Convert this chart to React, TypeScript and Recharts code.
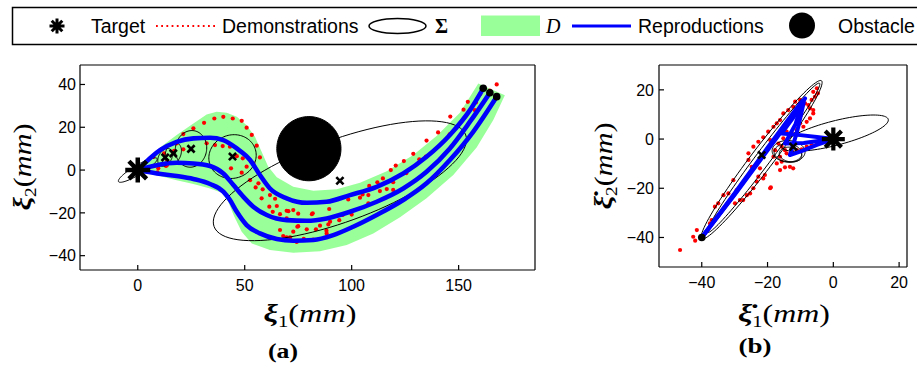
import React from "react";
import { ComposedChart, Scatter, XAxis, YAxis } from "recharts";

type Pt = [number, number];

// ---------- (a) position space ----------
const POS_X_TICKS = [0, 50, 100, 150];
const POS_Y_TICKS = [-40, -20, 0, 20, 40];

// envelope D (upper edge out, lower edge back)
const POS_BAND: Pt[] = [
  [-1, 0.5], [5, 4.7], [10.4, 10.6], [18.2, 16.4], [26, 21.8], [32.2, 26], [36.9, 27.2],
  [41.6, 26.8], [46.3, 24.9], [50.9, 21], [54.8, 15.6], [57.9, 8.6], [61, 1.6], [65, -3.4],
  [72.7, -7.8], [82.1, -9.7], [93, -9], [103.9, -5.9], [116.4, -0.5], [128.8, 7],
  [139.7, 15.9], [150.6, 26.8], [159.2, 40.5], [171.6, 35], [166.2, 23.4], [158.4, 10.6],
  [147.5, -2.3], [135, -13.2], [122.6, -22.1], [110.1, -29.6], [97.7, -35], [85.2, -37.9],
  [72.7, -38.6], [61.8, -37.4], [53.3, -34.3], [48.6, -28.8], [45, -21.5], [42.3, -14.8],
  [39.3, -10.6], [33.8, -8.6], [26, -6.5], [18.2, -4.7], [10.4, -2.8], [4.2, -1.3], [-1, -0.5],
];

const POS_DEMOS: Pt[] = [
  [35.8, 24.1], [40, 24.9], [44.4, 24.1], [48.6, 23], [31, 22.1], [50.9, 19.8], [53.3, 16.4],
  [55.6, 11.4], [57.1, 5.9], [54, 3.1], [50.9, 1.6], [48.6, -1.2], [52.5, -4.7], [55.1, -8.1],
  [56.4, -6.2], [58.4, -9], [57.9, -13.2], [61.8, -11.7], [64.2, -13.4], [61.5, -17.1],
  [65, -16.8], [63.1, -19.5], [66.5, -20.6], [69.6, -22.6], [70.4, -19.2], [72.7, -18.7],
  [66.5, -28], [68, -30.8], [71.2, -31.5], [11.2, 9.7], [12.3, 7.8], [13.8, 4.4], [17, 9],
  [18.2, 12.5], [26, 19.5], [21.3, 9.7], [32.2, 12.5], [36.1, 11.7], [39.7, 11.2],
  [43.1, 10.9], [46.3, 6.5], [49.1, 5.5], [43.6, 0.8], [9.6, 0.8], [13.6, 2.3], [7.3, 6.2],
  [21.3, 16.8], [9.2, -1.1], [13.2, 1.9], [72.7, -28.8], [74.6, -26.5], [75, -20.4],
  [74.3, -33.6], [77.6, -32.2], [81.4, -20.6], [82, -32.5], [85.2, -26], [88.2, -28.3],
  [89.9, -24.1], [95.8, -21], [100, -20.8], [107.8, -11.7], [108.2, -7.4], [113.2, -9.8],
  [114.6, -3.9], [118.3, 0], [120.6, 2.1], [119.4, -9.3], [125.6, -1.4], [128.8, 7.6],
  [131.6, 5], [134.7, 6.3], [135, 13.8], [140.4, 17.6], [146.1, 25], [145.8, 16.7],
  [152.3, 28.2], [154.3, 31.9], [157.6, 28], [167.8, 40], [164.6, 37.1], [69.6, -19],
  [81.8, -20.2], [89.5, -18.2], [98.4, -13.7], [105.1, -11.4], [112, -5.7], [116.4, -8.9],
  [119.4, -5.7], [124.4, 4.2], [158.1, 31.6], [160, 35.4], [89.1, -25.4], [83.3, -27.7],
  [79, -27.7], [75, -26.2], [69.6, -31.4], [107.8, -15.6], [103.9, -12.9], [94.2, -23.4],
  [88.3, -29.6],
];

const POS_REPRO_1: Pt[] = [
  [0, 0], [10.4, 9.3], [18.2, 13.2], [26, 14.8], [33.8, 15.1], [40, 14], [46.3, 10.1],
  [52.5, 4.7], [57.1, -2.3], [61.8, -8.6], [69.6, -13.2], [79, -15.3], [88.3, -14.8],
  [99.2, -11.7], [111.7, -7.8], [124.1, -1.6], [135, 6.2], [145.9, 16.4], [155.3, 28], [161.5, 38.2],
];
const POS_REPRO_2: Pt[] = [
  [0, 0], [8.9, 2.3], [18.2, 3.4], [26, 3.1], [33.8, 1.9], [40, -1.6], [44.7, -7], [49.4, -12.5],
  [54, -17.1], [60.3, -21], [69.6, -23.4], [79, -23.7], [88.3, -22.6], [99.2, -19.5],
  [111.7, -14.8], [124.1, -8.6], [135, -0.8], [145.9, 10.1], [155.3, 22.6], [164.6, 36.1],
];
const POS_REPRO_3: Pt[] = [
  [0, 0], [8.9, -1.6], [18.2, -2.8], [26, -4.2], [33.8, -6.5], [40, -10.1], [43.1, -14],
  [46.3, -19.5], [50.9, -25.7], [57.1, -29.6], [65, -32.2], [72.7, -33], [82.1, -32.7],
  [91.4, -30.4], [100.7, -26.5], [111.7, -21], [124.1, -14], [135, -6.2], [145.9, 4.7],
  [156.8, 17.9], [167.8, 34.3],
];

// Gaussians: centre + two conjugate half-axes [cx, cy, ux, uy, vx, vy]
const POS_SIGMAS: number[][] = [
  [0, 0, 9.0, 5.4, -1.13, 1.89],
  [12.8, 5.9, 2.25, 3.9, -2.6, 1.5],
  [16.6, 7.8, 1.78, 4.89, -3.38, 1.23],
  [24.9, 9.9, 1.49, 8.47, -7.19, 1.27],
  [44.3, 6.3, 10.52, 3.83, -3.45, 9.49],
  [94.5, -5, 58.82, 21.41, -6.57, 18.04],
];
const POS_CENTERS: Pt[] = [[12.8, 5.9], [16.6, 7.8], [24.9, 9.9], [44.3, 6.3], [94.5, -5]];
const POS_STARTS: Pt[] = [[161.5, 38.2], [164.6, 36.1], [167.8, 34.3]];
const OBSTACLE = { cx: 80, cy: 10, r: 15 };

// ---------- (b) velocity space ----------
const VEL_X_TICKS = [-40, -20, 0, 20];
const VEL_Y_TICKS = [-40, -20, 0, 20];

const VEL_DEMOS: Pt[] = [
  [-46.6, -45.1], [-42.6, -39.7], [-42, -41.3], [-41.5, -37], [-37.5, -34.3], [-37, -32.9],
  [-35.4, -31.6], [-36, -27.5], [-35, -26.1], [-33.4, -22.8], [-31.9, -22.1], [-30.4, -16.7],
  [-29.4, -20.7], [-28.4, -24.8], [-29.9, -26.1], [-27.4, -24.8], [-26.3, -22.8], [-25.3, -22.1],
  [-24.3, -20], [-23.3, -17.3], [-22.8, -15.3], [-21.3, -16], [-20.8, -14.6], [-19, -19.6],
  [-22.3, -11.9], [-24.8, -11.3], [-25.8, -8.5], [-25.8, -5.8], [-24.3, -3.1], [-22.8, -1.1],
  [-21.3, 0.7], [-19.8, 3], [-19.2, -0.4], [-18.2, 5], [-17.2, 6.4], [-16.2, 7.7], [-15.2, 10.4],
  [-13.7, 11.8], [-12.2, 13.1], [-11.6, 15.2], [-10.1, 15.9], [-8.6, 14.5], [-7.6, 13.8],
  [-7.1, 12.5], [-6.1, 11.8], [-6.1, 10.4], [-7.1, 8.4], [-8.1, 7], [-9.1, 5], [-10.1, 6.4],
  [-11.1, 3.7], [-12.6, 2.3], [-14.2, 3], [-15.2, 0.3], [-15.7, -3.1], [-14.7, -4.5],
  [-14.2, -5.8], [-12.6, -5.2], [-11.1, -4.5], [-9.6, -4.2], [-8.1, -3.1], [-6.6, -2.4],
  [-5, -1.8], [-16.2, -7.2], [-15.7, -9.2], [-14.7, -11.5], [-13.2, -11.3], [-12.2, -11.9],
  [-16.2, -12.6], [-17.2, -9.9], [-18.2, -7.2], [-16.7, -1.8], [-17.7, -4.5], [-6.1, 19.2],
  [-5, 20.6], [-4.7, 18.6], [-5.6, 17.2], [-6.6, 15.9], [-10.1, 9.1], [-19.2, -20],
];

const VEL_REPRO_1: Pt[] = [
  [-40, -40], [-30, -22.3], [-20, -4.2], [-12, 10.5], [-8.6, 16.5], [-11.5, 10], [-15.7, 2.3],
  [-10, 1.6], [-5, 0.8], [0, 0],
];
const VEL_REPRO_2: Pt[] = [
  [-40, -40], [-30, -22], [-20, -3.5], [-12, 11], [-9.4, 15.5], [-11.5, 6], [-14.7, -1.8],
  [-9, -1.6], [-4, -0.7], [0, 0],
];
const VEL_REPRO_3: Pt[] = [
  [-40, -40], [-30, -22.6], [-20, -4.6], [-12.5, 9], [-9, 14.8], [-11, 3], [-13.2, -6.5],
  [-9.5, -4.8], [-5, -2.4], [0, 0],
];

const VEL_SIGMAS: number[][] = [
  [-21.8, -8.4, 18.2, 32.1, 2.67, -2.68],
  [-21.2, -7.6, 17.0, 30.3, 1.8, -1.8],
  [0.5, 2.4, 16.2, 5.6, 0.9, -4.8],
  [-13.8, -5.6, 4.2, -0.6, 0.3, 3.6],
  [-13.0, -6.3, 3.4, -0.8, 0.4, 2.9],
  [-13.6, -5.0, 5.0, -0.4, 0.2, 4.4],
];
const VEL_CENTERS: Pt[] = [[-21.8, -6.5], [-12.2, -3.1]];
const VEL_STARTS: Pt[] = [[-40, -40]];

// ---------- helpers ----------
const RED = "#ff0000";
const BLUE = "#0000ff";
const GREEN = "#99ff99";
const SANS = "'Liberation Sans', Arial, sans-serif";
const SERIF = "'Liberation Serif', 'Times New Roman', serif";

const toXY = (pts: Pt[]) => pts.map(([x, y]) => ({ x, y }));

const outline = ([cx, cy, ux, uy, vx, vy]: number[]) => {
  const out = [];
  for (let i = 0; i <= 96; i++) {
    const t = (i / 96) * Math.PI * 2;
    out.push({ x: cx + ux * Math.cos(t) + vx * Math.sin(t), y: cy + uy * Math.cos(t) + vy * Math.sin(t) });
  }
  return out;
};

const NoDot = () => <g />;
const RedDot = (p: any) => <circle cx={p.cx} cy={p.cy} r={2.1} fill={RED} />;
const BlackDot = (p: any) => <circle cx={p.cx} cy={p.cy} r={3.8} fill="#000" />;
const XMark = (p: any) => {
  const s = 3.6;
  return (
    <path
      d={`M${p.cx - s},${p.cy - s}L${p.cx + s},${p.cy + s}M${p.cx - s},${p.cy + s}L${p.cx + s},${p.cy - s}`}
      stroke="#000"
      strokeWidth={2.6}
    />
  );
};
const starPath = (cx: number, cy: number, r: number) => {
  const d = r * 0.7071;
  return `M${cx - r},${cy}H${cx + r}M${cx},${cy - r}V${cy + r}M${cx - d},${cy - d}L${cx + d},${cy + d}M${cx - d},${cy + d}L${cx + d},${cy - d}`;
};
const makeStar = (r: number, w: number) => (p: any) => (
  <path d={starPath(p.cx, p.cy, r)} stroke="#000" strokeWidth={w} />
);
const BigStar = makeStar(12.5, 4.5);
const MidStar = makeStar(11.5, 4.2);

const fmt = (v: number) => String(v).replace("-", "\u2212");
const TICK = { fill: "#000", fontSize: 16, fontFamily: SANS };

function Axes({ xd, yd, xt, yt, xm, ym }: any) {
  return [
    <XAxis key="b" xAxisId="b" type="number" dataKey="x" domain={xd} ticks={xt} allowDataOverflow interval={0}
      height={30} tickSize={-5} tickMargin={15} tick={TICK} tickFormatter={fmt} stroke="#000" strokeWidth={1.2} />,
    <XAxis key="t" xAxisId="t" orientation="top" type="number" dataKey="x" domain={xd} ticks={xt} allowDataOverflow
      interval={0} height={5} tickSize={-5} tick={false} stroke="#000" strokeWidth={1.2} />,
    <YAxis key="l" yAxisId="l" type="number" dataKey="y" domain={yd} ticks={yt} allowDataOverflow interval={0}
      width={ym} tickSize={-5} tickMargin={xm} tick={TICK} tickFormatter={fmt} stroke="#000" strokeWidth={1.2} />,
    <YAxis key="r" yAxisId="r" orientation="right" type="number" dataKey="y" domain={yd} ticks={yt} allowDataOverflow
      interval={0} width={5} tickSize={-5} tick={false} stroke="#000" strokeWidth={1.2} />,
  ];
}

const S = { xAxisId: "b", yAxisId: "l", isAnimationActive: false } as const;

export default function App() {
  const curve = (pts: Pt[], key: string, w: number, joint: any) => (
    <Scatter key={key} {...S} data={toXY(pts)} shape={NoDot} fill={BLUE}
      line={{ stroke: BLUE, strokeWidth: w, fill: "none", strokeLinejoin: "round" }} lineJointType={joint} />
  );
  const sigma = (e: number[], key: string) => (
    <Scatter key={key} {...S} data={outline(e)} shape={NoDot} fill="#000"
      line={{ stroke: "#000", strokeWidth: 1, fill: "none" }} />
  );
  const obstaclePts = outline([OBSTACLE.cx, OBSTACLE.cy, OBSTACLE.r, 0, 0, OBSTACLE.r]);

  return (
    <div style={{ position: "absolute", left: 0, top: 0, width: 917, height: 370, background: "#fff", fontFamily: SANS }}>
      <ComposedChart width={560} height={300} margin={{ top: 60, right: 20, bottom: 0, left: 20 }}
        style={{ position: "absolute", left: 0, top: 0 }}>
        {Axes({ xd: [-27, 185.7], yd: [-46.7, 49.1], xt: POS_X_TICKS, yt: POS_Y_TICKS, xm: 9, ym: 60 })}
        <Scatter {...S} data={toXY(POS_BAND)} shape={NoDot} fill={GREEN}
          line={{ stroke: "none", fill: GREEN }} lineJointType="linearClosed" />
        <Scatter {...S} data={toXY(POS_DEMOS)} shape={RedDot} fill={RED} />
        {POS_SIGMAS.map((e, i) => sigma(e, "ps" + i))}
        {curve(POS_REPRO_1, "pr1", 4.6, "monotoneX")}
        {curve(POS_REPRO_2, "pr2", 4.6, "monotoneX")}
        {curve(POS_REPRO_3, "pr3", 4.6, "monotoneX")}
        <Scatter {...S} data={obstaclePts} shape={NoDot} fill="#000"
          line={{ stroke: "#000", strokeWidth: 1, fill: "#000" }} />
        <Scatter {...S} data={toXY(POS_CENTERS)} shape={XMark} fill="#000" />
        <Scatter {...S} data={toXY(POS_STARTS)} shape={BlackDot} fill="#000" />
        <Scatter {...S} data={[{ x: 0, y: 0 }]} shape={BigStar} fill="#000" />
      </ComposedChart>

      <ComposedChart width={317} height={300} margin={{ top: 60, right: 5, bottom: 3, left: 0 }}
        style={{ position: "absolute", left: 600, top: 0 }}>
        {Axes({ xd: [-53, 22.4], yd: [-52, 30.1], xt: VEL_X_TICKS, yt: VEL_Y_TICKS, xm: 10, ym: 59 })}
        <Scatter {...S} data={toXY(VEL_DEMOS)} shape={RedDot} fill={RED} />
        {VEL_SIGMAS.map((e, i) => sigma(e, "vs" + i))}
        {curve(VEL_REPRO_1, "vr1", 4, "linear")}
        {curve(VEL_REPRO_2, "vr2", 4, "linear")}
        {curve(VEL_REPRO_3, "vr3", 4, "linear")}
        <Scatter {...S} data={toXY(VEL_CENTERS)} shape={XMark} fill="#000" />
        <Scatter {...S} data={toXY(VEL_STARTS)} shape={BlackDot} fill="#000" />
        <Scatter {...S} data={[{ x: 0, y: 0 }]} shape={MidStar} fill="#000" />
      </ComposedChart>

      <svg width={917} height={370} style={{ position: "absolute", left: 0, top: 0, pointerEvents: "none" }}>
        {/* legend */}
        <rect x={12.5} y={7.5} width={940} height={37} fill="none" stroke="#000" strokeWidth={1.5} />
        <path d={starPath(57, 26, 7.5)} stroke="#000" strokeWidth={3} />
        <g fontFamily={SANS} fontSize={19.5} fill="#000">
          <text x={91} y={33}>Target</text>
          <text x={222} y={33}>Demonstrations</text>
          <text x={638} y={33}>Reproductions</text>
          <text x={838} y={33}>Obstacle</text>
        </g>
        <line x1={156} y1={26} x2={218} y2={26} stroke={RED} strokeWidth={2} strokeDasharray="1.8 3.4" />
        <ellipse cx={397.5} cy={26} rx={28.5} ry={7.5} fill="none" stroke="#000" strokeWidth={1.5} />
        <text x={435} y={33} fontFamily={SERIF} fontSize={20} fontWeight="bold">Σ</text>
        <rect x={481} y={15.5} width={59} height={20.5} fill={GREEN} />
        <text x={546} y={33} fontFamily={SERIF} fontSize={20} fontStyle="italic">D</text>
        <line x1={572} y1={26} x2={631} y2={26} stroke={BLUE} strokeWidth={3} />
        <circle cx={802} cy={25.5} r={13} fill="#000" />

        {/* axis labels */}
        <g fontFamily={SERIF} fontSize={25} fill="#000">
          <text x={310} y={322} textAnchor="middle" textLength={93} lengthAdjust="spacingAndGlyphs">
            <tspan fontWeight="bold" fontStyle="italic">ξ</tspan>
            <tspan fontSize={16} dy={5}>1</tspan>
            <tspan dy={-5}>(</tspan>
            <tspan fontStyle="italic">mm</tspan>
            <tspan>)</tspan>
          </text>
          <text x={784} y={322} textAnchor="middle" textLength={92} lengthAdjust="spacingAndGlyphs">
            <tspan fontWeight="bold" fontStyle="italic">{"ξ\u0307"}</tspan>
            <tspan fontSize={16} dy={5}>1</tspan>
            <tspan dy={-5}>(</tspan>
            <tspan fontStyle="italic">mm</tspan>
            <tspan>)</tspan>
          </text>
          <text transform="translate(31,167) rotate(-90)" textAnchor="middle" textLength={87} lengthAdjust="spacingAndGlyphs">
            <tspan fontWeight="bold" fontStyle="italic">ξ</tspan>
            <tspan fontSize={16} dy={5}>2</tspan>
            <tspan dy={-5}>(</tspan>
            <tspan fontStyle="italic">mm</tspan>
            <tspan>)</tspan>
          </text>
          <text transform="translate(612,166) rotate(-90)" textAnchor="middle" textLength={87} lengthAdjust="spacingAndGlyphs">
            <tspan fontWeight="bold" fontStyle="italic">{"ξ\u0307"}</tspan>
            <tspan fontSize={16} dy={5}>2</tspan>
            <tspan dy={-5}>(</tspan>
            <tspan fontStyle="italic">mm</tspan>
            <tspan>)</tspan>
          </text>
        </g>

        {/* captions */}
        <g fontFamily={SERIF} fontSize={20} fontWeight="bold" fill="#000">
          <text x={283} y={358} textAnchor="middle" textLength={30} lengthAdjust="spacingAndGlyphs">(a)</text>
          <text x={755} y={353} textAnchor="middle" textLength={33} lengthAdjust="spacingAndGlyphs">(b)</text>
        </g>
      </svg>
    </div>
  );
}
